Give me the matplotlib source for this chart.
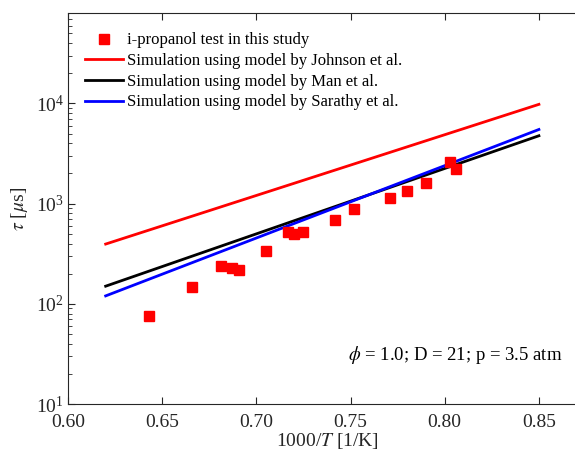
import numpy as np
import matplotlib
matplotlib.use("Agg")
import matplotlib.pyplot as plt
from matplotlib.ticker import LogLocator, NullFormatter, FixedLocator

plt.rcParams['font.family'] = ['Liberation Serif', 'DejaVu Serif']
plt.rcParams['mathtext.fontset'] = 'stix'

# measured ignition delay times (1000/T, tau in microseconds)
exp_x = [0.643, 0.666, 0.681, 0.687, 0.691, 0.705, 0.717, 0.720, 0.725,
         0.742, 0.752, 0.771, 0.780, 0.790, 0.803, 0.806]
exp_tau = [75, 147, 236, 226, 216, 336, 521, 497, 516,
           686, 880, 1130, 1340, 1600, 2600, 2210]

# model simulations (straight lines in Arrhenius plot, endpoints)
sim_x = [0.62, 0.85]
johnson_tau = [395, 9800]
man_tau = [150, 4760]
sarathy_tau = [120, 5500]

fig = plt.figure(figsize=(5.75, 4.55), dpi=100)
ax = fig.add_axes([68/575, 51/455, 518/575, 391/455])

ax.plot(exp_x, exp_tau, 's', color='#ff0000', markersize=7.5, linestyle='none',
        label='i-propanol test in this study', zorder=5)
ax.plot(sim_x, johnson_tau, color='#ff0000', lw=2, label='Simulation using model by Johnson et al.')
ax.plot(sim_x, man_tau, color='black', lw=2, label='Simulation using model by Man et al.')
ax.plot(sim_x, sarathy_tau, color='#0000ff', lw=2, label='Simulation using model by Sarathy et al.')

ax.set_yscale('log')
ax.set_xlim(0.6, 0.875)
ax.set_ylim(10, 8e4)
ax.set_xticks([0.60, 0.65, 0.70, 0.75, 0.80, 0.85])
ax.set_xticklabels(['0.60', '0.65', '0.70', '0.75', '0.80', '0.85'])
ax.yaxis.set_major_locator(FixedLocator([10, 100, 1000, 10000]))
ax.yaxis.set_minor_locator(LogLocator(base=10, subs=np.arange(2, 10)))
ax.yaxis.set_minor_formatter(NullFormatter())

dark = '#262626'
for s in ax.spines.values():
    s.set_color(dark)
    s.set_linewidth(0.8)
ax.tick_params(which='both', direction='in', top=True, right=False, colors=dark,
               labelsize=14, labelcolor=dark)
ax.tick_params(which='major', length=5)
ax.tick_params(axis='x', which='major', pad=7)
ax.tick_params(axis='y', which='major', pad=3)
ax.tick_params(which='minor', length=3)

ax.set_xlabel(r'1000/$T$ [1/K]', fontsize=14, color=dark, labelpad=0)
ax.set_ylabel(r'$\tau$ [$\mu$s]', fontsize=14, color=dark, labelpad=4)

ax.legend(loc='upper left', bbox_to_anchor=(0.01, 0.98), frameon=False, fontsize=12,
          handlelength=2.3, handletextpad=0.2, labelspacing=0.28, borderaxespad=0.3)

ax.text(0.955, 0.125, r'$\phi$ = 1.0; D = 21; p = 3.5 atm', transform=ax.transAxes,
        ha='right', va='center', fontsize=13.5, color='black')

fig.savefig('out.png', dpi=100)
